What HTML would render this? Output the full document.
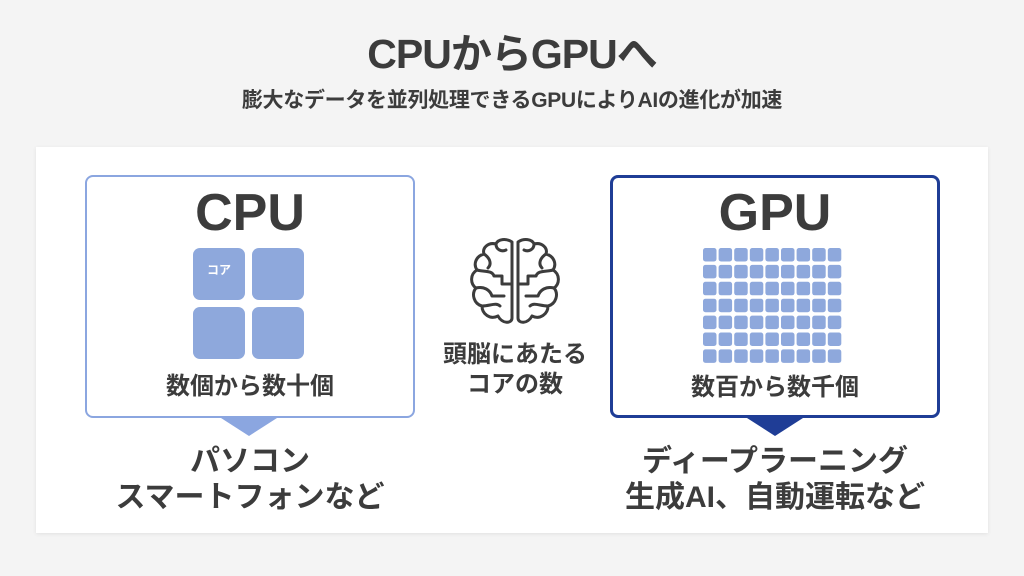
<!DOCTYPE html>
<html><head><meta charset="utf-8"><style>
body{margin:0;width:1024px;height:576px;background:#f4f4f4;position:relative;overflow:hidden;font-family:"Liberation Sans","Noto Sans CJK JP",sans-serif;color:#3c3c3c;font-weight:bold}
.t{position:absolute;left:0;width:1024px;text-align:center;white-space:nowrap}
.card{position:absolute;left:36px;top:147px;width:952px;height:386px;background:#fff;box-shadow:0 1px 4px rgba(0,0,0,.08)}
.box{position:absolute;top:175px;height:243px;box-sizing:border-box;background:#fff;border-radius:8px}
.c{position:absolute;text-align:center;white-space:nowrap}
.core{position:absolute;width:52px;height:52px;background:#8ea8dc;border-radius:7px}
.tri{position:absolute;width:0;height:0;border-left:28px solid transparent;border-right:28px solid transparent;top:418px}
</style></head><body>
<div class="t" style="top:28px;font-size:41px;line-height:52px;letter-spacing:-1px">CPUからGPUへ</div>
<div class="t" style="top:87px;font-size:21px;line-height:28px;letter-spacing:-0.3px">膨大なデータを並列処理できるGPUによりAIの進化が加速</div>
<div class="card"></div>

<div class="box" style="left:85px;width:330px;border:2.5px solid #8ba6e0"></div>
<div class="tri" style="left:221px;border-top:18px solid #8ba6e0"></div>
<div class="c" style="left:85px;width:330px;top:182px;font-size:52px;line-height:62px">CPU</div>
<div class="core" style="left:193px;top:248px"></div>
<div class="core" style="left:252px;top:248px"></div>
<div class="core" style="left:193px;top:307px"></div>
<div class="core" style="left:252px;top:307px"></div>
<div class="c" style="left:193px;width:52px;top:262px;font-size:12px;color:#fff;line-height:16px">コア</div>
<div class="c" style="left:85px;width:330px;top:371px;font-size:24px;line-height:32px">数個から数十個</div>

<div class="box" style="left:610px;width:330px;border:3px solid #1f3d96"></div>
<div class="tri" style="left:747px;border-top:18px solid #1f3d96"></div>
<div class="c" style="left:610px;width:330px;top:182px;font-size:52px;line-height:62px">GPU</div>
<div class="c" style="left:610px;width:330px;top:372px;font-size:24px;line-height:32px">数百から数千個</div>

<svg style="position:absolute;left:462px;top:236px" width="106" height="92" viewBox="0 0 106 92" fill="none" stroke="#3c3c3c" stroke-width="3" stroke-linecap="round" stroke-linejoin="round">
<path d="M50 6 C44 2 36 3 34 8 C26 6 20 12 22 18 C14 20 11 28 15 34 C8 38 8 48 14 52 C9 58 12 68 20 70 C20 78 28 84 36 80 C40 88 50 88 50 82 Z"/>
<path d="M56 6 C62 2 70 3 72 8 C80 6 86 12 84 18 C92 20 95 28 91 34 C98 38 98 48 92 52 C97 58 94 68 86 70 C86 78 78 84 70 80 C66 88 56 88 56 82 Z"/>
<path d="M34 8 C34 14 40 16 44 14 M22 18 C28 22 30 28 26 32 M15 34 C22 36 30 34 32 40 M32 40 L40 40 L40 48 M14 52 C22 50 28 54 30 60 M30 60 L42 60 M20 70 C28 70 34 66 38 70 M40 48 L50 48"/>
<path d="M72 8 C72 14 66 16 62 14 M84 18 C78 22 76 28 80 32 M91 34 C84 36 76 34 74 40 M74 40 L66 40 L66 48 M92 52 C84 50 78 54 76 60 M76 60 L64 60 M86 70 C78 70 72 66 68 70 M66 48 L56 48"/>
</svg>
<div class="c" style="left:415px;width:200px;top:340px;font-size:24px;line-height:30px">頭脳にあたる<br>コアの数</div>

<div class="c" style="left:85px;width:330px;top:444px;font-size:30px;line-height:36px">パソコン<br>スマートフォンなど</div>
<div class="c" style="left:575px;width:400px;top:444px;font-size:30px;line-height:36px">ディープラーニング<br>生成AI、自動運転など</div>

<svg style="position:absolute;left:703px;top:248px" width="142" height="116">
<g fill="#8ea8dc">
<defs><rect id="r" width="13.5" height="13.5" rx="2.5"/></defs>
<g id="row"><use href="#r" x="0"/><use href="#r" x="15.6"/><use href="#r" x="31.2"/><use href="#r" x="46.8"/><use href="#r" x="62.4"/><use href="#r" x="78"/><use href="#r" x="93.6"/><use href="#r" x="109.2"/><use href="#r" x="124.8"/></g>
<use href="#row" y="16.9"/><use href="#row" y="33.8"/><use href="#row" y="50.7"/><use href="#row" y="67.6"/><use href="#row" y="84.5"/><use href="#row" y="101.4"/>
</g>
</svg>
</body></html>
